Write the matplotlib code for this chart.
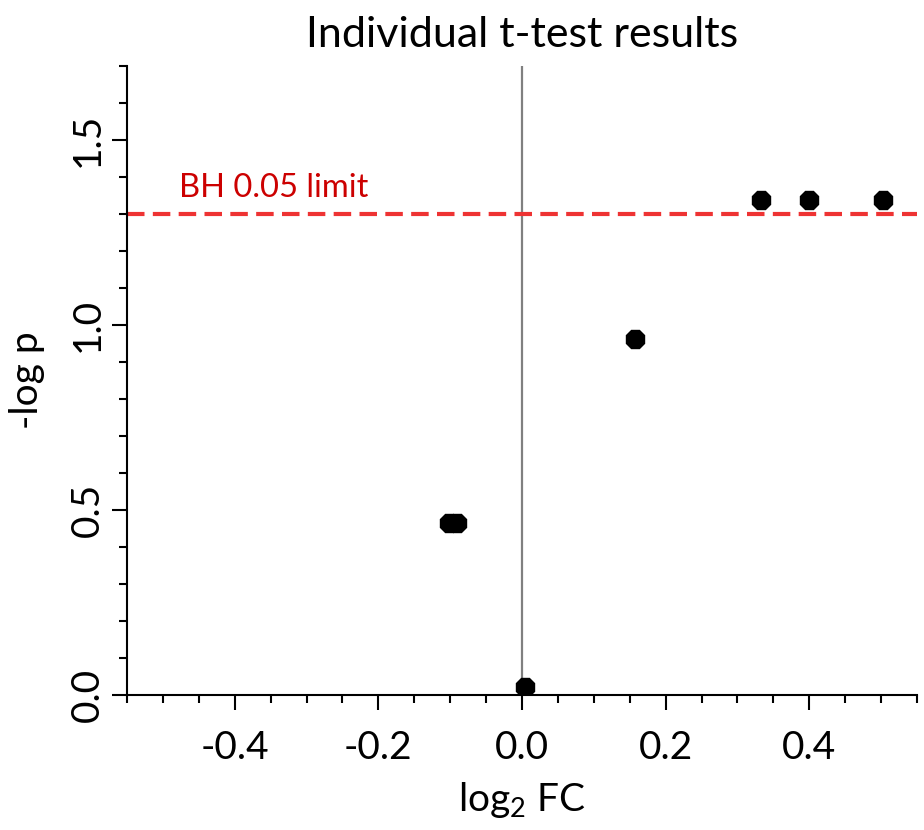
import numpy as np
import matplotlib
matplotlib.use("Agg")
import matplotlib.pyplot as plt
from matplotlib.ticker import MultipleLocator

plt.rcParams['font.family'] = ['Lato', 'DejaVu Sans']
plt.rcParams['mathtext.default'] = 'regular'

# fold change vs significance for each test
log2_fc = [0.004, -0.101, -0.091, 0.157, 0.333, 0.400, 0.502]
neg_log_p = [0.022, 0.466, 0.466, 0.962, 1.338, 1.338, 1.338]
bh_limit = 1.301  # -log10(0.05)

fig = plt.figure(figsize=(9.24, 8.3), dpi=100)
ax = fig.add_axes([0.1374, 0.1627, 0.855, 0.7578])

ax.axvline(0, color='#808080', lw=1.6, zorder=1)
ax.axhline(bh_limit, color='#ee3333', lw=3, dashes=(4.2, 2.0), zorder=2)
ax.text(-0.477, bh_limit + 0.045, 'BH 0.05 limit', color='#cc0000', fontsize=23.5)
ax.plot(log2_fc, neg_log_p, ls='none', marker='8', ms=14, color='black', zorder=3)

ax.set_xlim(-0.55, 0.55)
ax.set_ylim(0, 1.7)
ax.xaxis.set_major_locator(MultipleLocator(0.2))
ax.xaxis.set_minor_locator(MultipleLocator(0.05))
ax.yaxis.set_major_locator(MultipleLocator(0.5))
ax.yaxis.set_minor_locator(MultipleLocator(0.1))
ax.set_xticks([-0.4, -0.2, 0.0, 0.2, 0.4])
ax.set_xticklabels(['-0.4', '-0.2', '0.0', '0.2', '0.4'])
ax.set_yticks([0.0, 0.5, 1.0, 1.5])
ax.set_yticklabels(['0.0', '0.5', '1.0', '1.5'], rotation=90, va='center')

for s in ['top', 'right']:
    ax.spines[s].set_visible(False)
for s in ['left', 'bottom']:
    ax.spines[s].set_linewidth(1.5)
ax.tick_params(which='major', length=11, width=1.5, labelsize=28)
ax.tick_params(which='minor', length=6, width=1.5)
ax.tick_params(axis='both', which='both', direction='out')
ax.tick_params(axis='x', which='major', pad=14)
ax.tick_params(axis='y', which='major', pad=4)

ax.set_xlabel('log$_2$ FC', fontsize=28, labelpad=10)
ax.set_ylabel('-log p', fontsize=28, labelpad=18)
ax.set_title('Individual t-test results', fontsize=31, pad=14)

fig.savefig('out.png', dpi=100)
